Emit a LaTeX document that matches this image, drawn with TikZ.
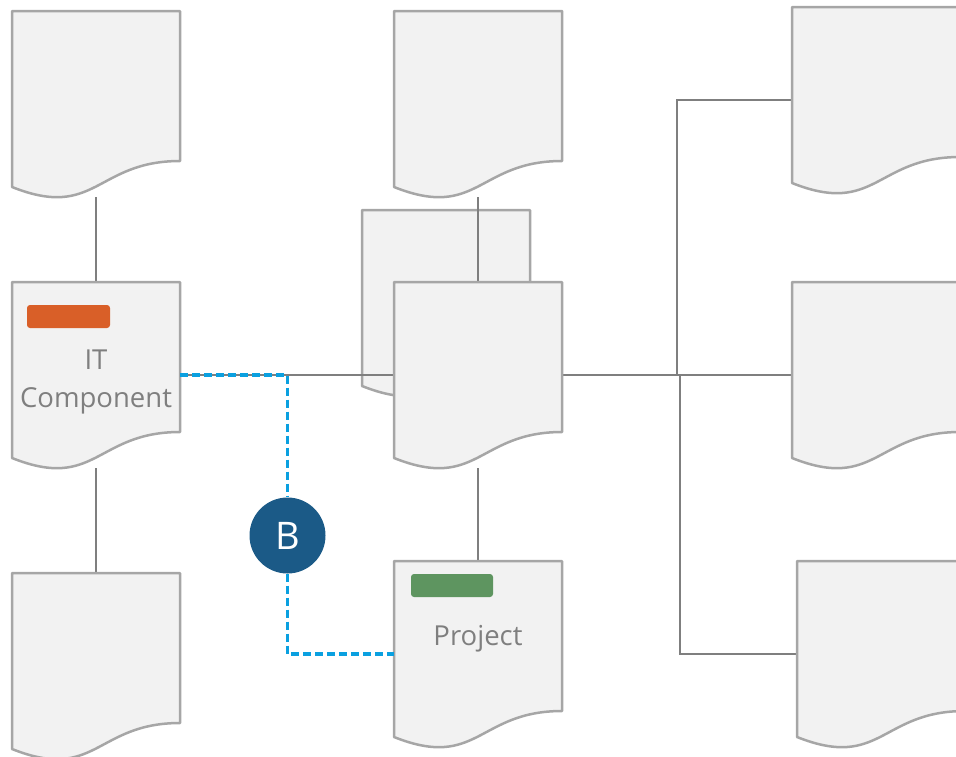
\documentclass[tikz,border=0pt]{standalone}
\usepackage{fontspec}
\setmainfont{Open Sans}
\usetikzlibrary{calc}
\definecolor{docfill}{HTML}{F2F2F2}
\definecolor{docdraw}{HTML}{A6A6A6}
\definecolor{conncol}{HTML}{7F7F7F}
\definecolor{bluedash}{HTML}{0AA0E0}
\definecolor{circcol}{HTML}{1B5A87}
\definecolor{orangebar}{HTML}{D95F28}
\definecolor{greenbar}{HTML}{5E9560}
\definecolor{txtgray}{HTML}{7F7F7F}
\pgfdeclarelayer{backdoc}
\pgfdeclarelayer{conn}
\pgfdeclarelayer{docs}
\pgfsetlayers{backdoc,conn,docs,main}
\tikzset{
  docbox/.style={minimum width=168pt, minimum height=186pt, inner sep=0pt, outer sep=0pt, draw=none},
  docline/.style={draw=docdraw, fill=docfill, line width=2.5pt, line join=round},
  connline/.style={draw=conncol, line width=2.2pt},
  bluelink/.style={draw=bluedash, line width=3.3pt, dash pattern=on 8pt off 4pt},
  lbl/.style={text=txtgray, font=\fontsize{27.5}{38}\selectfont, align=center, inner sep=0pt},
  tagbar/.style={rounded corners=3pt, minimum height=23pt, inner sep=0pt},
  bcircle/.style={circle, fill=circcol, minimum size=76pt, inner sep=0pt, text=white, font=\fontsize{38}{38}\selectfont}
}
\newcommand\docshape[1]{%
  \path[docline] (#1.north west) -- (#1.north east) -- ($(#1.north east)+(0,150)$)
    .. controls ($(#1.north west)+(84,150)$) and ($(#1.north west)+(84,209.4)$) .. ($(#1.north west)+(0,176)$) -- cycle;}
\begin{document}
\begin{tikzpicture}[x=1pt,y=-1pt]
\useasboundingbox (0,0) rectangle (956,756);
% document nodes (positions = centres)
\node[docbox] (tl)  at (96,104) {};
\node[docbox] (itc) at (96,375) {};
\node[docbox] (bl)  at (96,666) {};
\node[docbox] (tm)  at (478,104) {};
\node[docbox] (bk)  at (446,303) {};
\node[docbox] (mid) at (478,375) {};
\node[docbox] (proj) at (478,654) {};
\node[docbox] (rt)  at (876,100) {};
\node[docbox] (rm)  at (876,375) {};
\node[docbox] (rb)  at (881,654) {};
\begin{pgfonlayer}{backdoc}
  \docshape{bk}
\end{pgfonlayer}
\begin{pgfonlayer}{conn}
  \draw[connline] (tl.south) -- (itc.north);
  \draw[connline] (itc.south) -- (bl.north);
  \draw[connline] (tm.south) -- (mid.north);
  \draw[connline] (mid.south) -- (proj.north);
  \draw[connline] (itc.east) -- (mid.west);
  \draw[connline] (mid.east) -- (rm.west);
  \draw[connline] (mid.east) -- ++(115,0) |- (rt.west);
  \draw[connline] (mid.east) -- ++(118,0) |- (rb.west);
\end{pgfonlayer}
\begin{pgfonlayer}{docs}
  \docshape{tl}
  \docshape{itc}
  \docshape{bl}
  \docshape{tm}
  \docshape{mid}
  \docshape{proj}
  \docshape{rt}
  \docshape{rm}
  \docshape{rb}
\end{pgfonlayer}
% tags and labels
\node[tagbar, fill=orangebar, minimum width=83pt] (obar) at (68.5,316.5) {};
\node[tagbar, fill=greenbar, minimum width=82pt] (gbar) at (452,585.5) {};
\node[lbl] (itctext) at (96,382) {IT\\Component};
\node[lbl] (projtext) at (478,639) {Project};
% B marker and dashed link
\node[bcircle] (B) at (287.5,535.5) {B};
\draw[bluelink] (itc.east) -| (B.north);
\draw[bluelink] (B.south) |- (proj.west);
\end{tikzpicture}
\end{document}
